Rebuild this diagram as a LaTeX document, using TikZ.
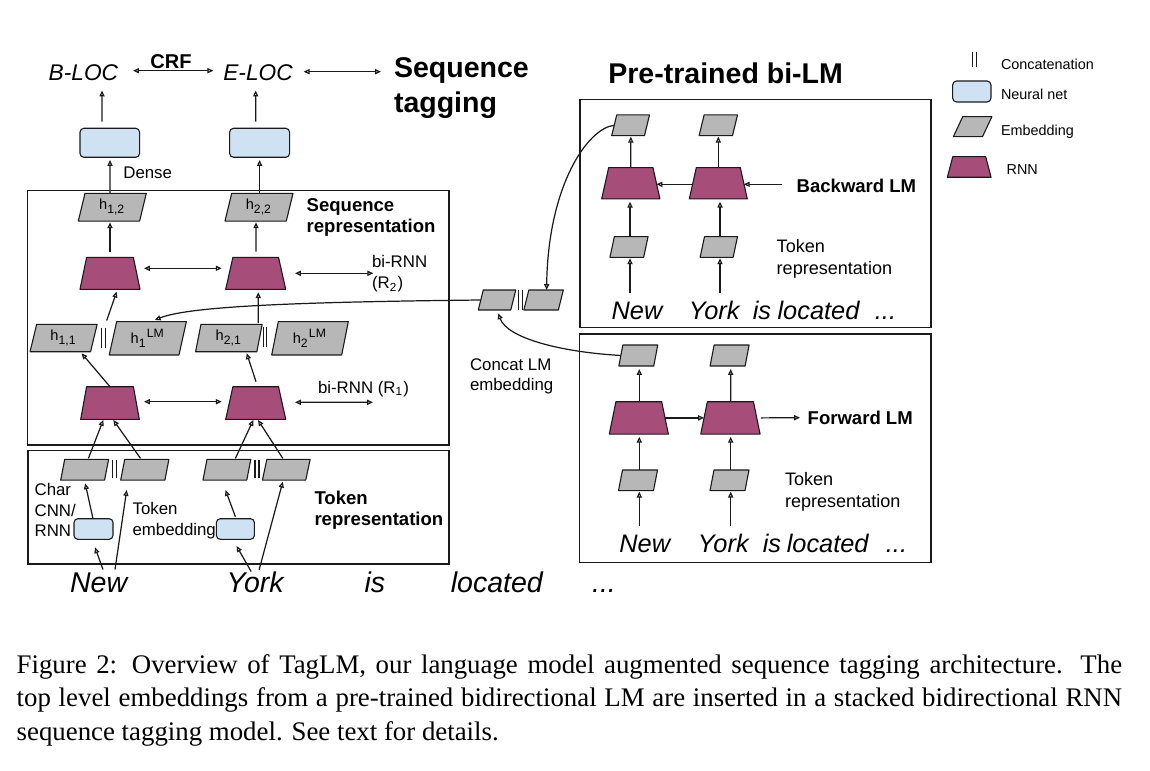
\documentclass[tikz,border=0pt]{standalone}
\usepackage{fontspec}
\setmainfont{Liberation Sans}
\newfontfamily\capfont{Liberation Serif}
\usetikzlibrary{arrows.meta,calc,backgrounds}

\definecolor{rnnc}{HTML}{A64D79}
\definecolor{nnc}{HTML}{CFE2F3}
\definecolor{embc}{HTML}{B7B7B7}
\definecolor{edgec}{HTML}{1A1A1A}

\tikzset{
  otri/.tip={Triangle[open,length=2.4pt,width=2.1pt]},
  arr/.style={-otri, line width=0.5pt, draw=edgec},
  darr/.style={otri-otri, line width=0.5pt, draw=edgec},
  every node/.style={inner sep=0pt, outer sep=0pt},
  lbl/.style={text height=0.72em, text depth=0pt},
  frame/.style={draw=edgec, line width=0.55pt},
  embshape/.style={fill=embc, draw=edgec, line width=0.45pt, line join=round},
  rnnshape/.style={fill=rnnc, draw=edgec, line width=0.45pt, line join=round},
  nn/.style={draw=edgec, fill=nnc, rounded corners=1.6pt, line width=0.45pt},
  catline/.style={draw=edgec, line width=0.45pt},
  tbig/.style={font=\fontsize{11.7}{14}\selectfont\bfseries},
  tbold/.style={font=\fontsize{7.6}{8.7}\selectfont\bfseries},
  tsmall/.style={font=\fontsize{6.9}{8.5}\selectfont},
  tmed/.style={font=\fontsize{7.4}{8.9}\selectfont},
  tleg/.style={font=\fontsize{5.9}{7}\selectfont},
  tloc/.style={font=\fontsize{9.3}{11}\selectfont\itshape},
  tcrf/.style={font=\fontsize{8.2}{10}\selectfont\bfseries},
  wl/.style={font=\fontsize{11.7}{14}\selectfont\itshape, lbl},
  wr/.style={font=\fontsize{10.4}{12}\selectfont\itshape, lbl},
  embtxt/.style={font=\fontsize{6}{7}\selectfont},
  captxt/.style={font=\capfont\fontsize{11}{13.6}\selectfont, anchor=base west},
}

% embedding: name, x, y, width, height, half slant, text
\newcommand\Emb[7]{%
  \node[embtxt, minimum width=#4*0.41pt, minimum height=#5*0.41pt] (#1) at (#2,#3) {#7};
  \begin{scope}[on background layer]
    \draw[embshape] ($(#1.south west)+(-#6,0)$) -- ($(#1.south east)+(-#6,0)$)
      -- ($(#1.north east)+(#6,0)$) -- ($(#1.north west)+(#6,0)$) -- cycle;
  \end{scope}}
% RNN: name, x, y, bottom width, height, inset
\newcommand\Rnn[6]{%
  \node[minimum width=#4*0.41pt, minimum height=#5*0.41pt] (#1) at (#2,#3) {};
  \begin{scope}[on background layer]
    \draw[rnnshape] (#1.south west) -- (#1.south east)
      -- ($(#1.north east)+(-#6,0)$) -- ($(#1.north west)+(#6,0)$) -- cycle;
  \end{scope}}
% concatenation bars: name, x, y, height, gap
\newcommand\Cat[5]{%
  \node[minimum width=#5*0.41pt, minimum height=#4*0.41pt] (#1) at (#2,#3) {};
  \draw[catline] (#1.north west) -- (#1.south west) (#1.north east) -- (#1.south east);}

\begin{document}
\begin{tikzpicture}[x=0.41pt,y=-0.41pt]
\useasboundingbox (0,0) rectangle (1150,771);

% ---------------- frames
\draw[frame] (27.5,190.7) rectangle (449,445);
\draw[frame] (28,450.7) rectangle (449,564);
\draw[frame] (580,99.3) rectangle (931,327.3);
\draw[frame] (579.3,334) rectangle (931,562.3);

% ---------------- top: tags
\node[tloc, lbl] (bloc) at (83.4,71.7) {B-LOC};
\node[tloc, lbl] (eloc) at (258,71.7) {E-LOC};
\node[tcrf, lbl] (crf) at (171,60) {CRF};
\draw[darr] ($(bloc.east)+(15,-1)$) -- ($(eloc.west)+(-10,-1)$);
\node[tbig, anchor=base west] (seq1) at (394,78) {Sequence};
\node[tbig, anchor=base west] (seq2) at (394,112.5) {tagging};
\draw[darr] ($(eloc.east)+(11,0)$) -- ($(seq1.west |- eloc.east)+(-13,0)$);

\node[nn, minimum width=59.6*0.41pt, minimum height=29*0.41pt] (dense1) at (109.8,142.8) {};
\node[nn, minimum width=60*0.41pt, minimum height=29*0.41pt] (dense2) at (259.6,142.8) {};
\node[tsmall, lbl] (denselbl) at (147.7,169.3) {Dense};
\draw[arr] ($(dense1.north)+(-7.8,-6.6)$) -- ($(bloc.south)+(18.6,10.1)$);
\draw[arr] ($(dense2.north)+(-3.9,-6.6)$) -- ($(eloc.south)+(-2.3,10.1)$);

% ---------------- sequence representation
\Emb{h12}{112.3}{207.2}{61.3}{27.7}{3.35}{h\textsubscript{1,2}}
\Emb{h22}{259}{207.2}{61.3}{27.7}{3.35}{h\textsubscript{2,2}}
\draw[arr] ($(h12.north)+(-2.3,0)$) -- ($(dense1.south)+(0.2,2.7)$);
\draw[arr] ($(h22.north)+(0.6,0)$) -- ($(dense2.south)+(0,2.7)$);
\node[tbold, align=left, anchor=west] (seqrep) at (306.7,217.5) {Sequence\\representation};

\Rnn{rnn21}{110}{273.3}{60}{32}{6.65}
\Rnn{rnn22}{255.7}{273.3}{60}{32}{7.2}
\draw[arr] ($(rnn21.north)+(0,-5.6)$) -- ($(h12.south)+(-2.3,1.3)$);
\draw[arr] ($(rnn22.north)+(0.3,-5.6)$) -- ($(h22.south)+(-3,1.3)$);
\draw[darr] ($(rnn21.east)+(4,-5)$) -- ($(rnn22.west)+(-4,-5)$);
\coordinate (r2end) at (373.3,273.3);
\draw[darr] ($(rnn22.east)+(9.3,0)$) -- (r2end);
\node[tsmall, align=left, anchor=west] (birnn2) at (372,274) {bi-RNN\\(R\textsubscript{2})};

\Emb{h11}{63.6}{338}{60.5}{27.4}{3.3}{h\textsubscript{1,1}}
\Emb{h1lm}{147.8}{338.3}{69.7}{33.3}{3.7}{h\textsubscript{1}\textsuperscript{LM}}
\Emb{h21}{228.9}{338}{61.2}{27.4}{2.7}{h\textsubscript{2,1}}
\Emb{h2lm}{310}{338.3}{70}{33.3}{3.3}{h\textsubscript{2}\textsuperscript{LM}}
\Cat{cat1}{103.3}{337.5}{20}{3.8}
\Cat{cat2}{265}{337}{20}{3.2}
\draw[arr] ($(cat1.north)+(3.4,-7)$) -- ($(rnn21.south)+(6.7,2.4)$);
\draw[arr] ($(cat2.north)+(-6.7,-4)$) -- ($(rnn22.south)+(2.6,3)$);

\Rnn{rnn11}{110}{403}{58.6}{32.6}{5.9}
\Rnn{rnn12}{255.7}{403}{60}{32.6}{7.2}
\draw[arr] (rnn11.north) -- ($(h11.south)+(18,1.6)$);
\draw[arr] ($(rnn12.north)+(0.3,-5)$) -- ($(h21.south)+(17.8,1.6)$);
\draw[darr] ($(rnn11.east)+(4.7,-1.3)$) -- ($(rnn12.west)+(-4,-1.3)$);
\coordinate (r1end) at (373,402.3);
\draw[darr] ($(rnn12.east)+(9.3,-0.7)$) -- (r1end);
\node[tsmall, lbl, anchor=west] (birnn1) at (318,384.3) {bi-RNN (R\textsubscript{1})};

% ---------------- token representation
\Emb{tok1}{84.65}{469.7}{43.9}{20.7}{2}{}
\Emb{tok2}{144.8}{469.7}{44.2}{20.7}{2}{}
\Emb{tok3}{226.9}{469.7}{43.8}{20.7}{2}{}
\Emb{tok4}{286.3}{469.7}{43.3}{20.7}{2.2}{}
\Cat{tcat1}{114.9}{469}{18}{4}
\Cat{tcat2}{257}{469}{18}{4}
\draw[arr] ($(tok1.north)+(3.75,-1)$) -- ($(rnn11.south)+(-6.7,0.7)$);
\draw[arr] ($(tok2.north)+(-4.3,-1)$) -- ($(rnn11.south)+(3.3,0.7)$);
\draw[arr] ($(tok3.north)+(8.5,-1)$) -- ($(rnn12.south)+(-2.4,0.7)$);
\draw[arr] ($(tok4.north)+(-3.5,-1)$) -- ($(rnn12.south)+(2.3,0.7)$);

\node[tsmall, align=left, anchor=west] (charlbl) at (34.6,510) {Char\\CNN/\\RNN};
\node[nn, minimum width=39*0.41pt, minimum height=20.6*0.41pt] (cnn1) at (93.5,529) {};
\node[nn, minimum width=38*0.41pt, minimum height=20.6*0.41pt] (cnn2) at (235.4,529) {};
\node[tsmall, align=left, anchor=west] (tokemb) at (132.6,520.5) {Token\\embedding};
\node[tbold, align=left, anchor=west] (tokrep) at (314.5,510) {Token\\representation};

\node[wl] (w1) at (98.6,583.3) {New};
\node[wl] (w2) at (255.1,583.3) {York};
\node[wl] (w3) at (374.8,583.3) {is};
\node[wl] (w4) at (496.8,583.3) {located};
\node[wl] (w5) at (604,583.3) {...};

\draw[arr] ($(cnn1.north)+(-0.5,0)$) -- ($(tok1.south)+(0.55,3.3)$);
\draw[arr] ($(w1.north)+(4.4,-5)$) -- ($(cnn1.south)+(1.5,8)$);
\draw[arr] ($(w1.north)+(16.4,-5)$) -- ($(tok2.south)+(-18.1,10)$);
\draw[arr] ($(cnn2.north)+(0,-2)$) -- ($(tok3.south)+(-1.4,10)$);
\draw[arr] ($(w2.north)+(-4,-3)$) -- ($(cnn2.south)+(1.2,6.7)$);
\draw[arr] ($(w2.north)+(4,-4.7)$) -- ($(tok4.south)+(-3.5,1.7)$);

% ---------------- concat LM embedding
\Emb{cc1}{497}{300}{32.5}{20}{2.5}{}
\Emb{cc2}{543.6}{300}{34.5}{20}{2.5}{}
\Cat{cccat}{520.3}{300}{20}{4}
\draw[arr] (cc1.west) .. controls (300,302) and (190,306) .. ($(h1lm.north)+(7,-1.7)$);
\node[tsmall, align=left, anchor=west] (cclbl) at (470,376.5) {Concat LM\\embedding};

% ---------------- pre-trained bi-LM
\node[tbig, anchor=base west] (pretr) at (608.3,83.3) {Pre-trained bi-LM};

% backward LM
\Emb{bwtop1}{630.6}{125.3}{32.8}{20.7}{2.5}{}
\Emb{bwtop2}{718.3}{125.3}{33.4}{20.7}{2.5}{}
\Rnn{bwrnn1}{630.8}{183.3}{58.3}{31.3}{7}
\Rnn{bwrnn2}{718.3}{183.3}{58}{31.3}{7}
\Emb{bwbot1}{629}{247}{33.7}{20.6}{2.2}{}
\Emb{bwbot2}{718.8}{247}{33}{20.6}{2.2}{}
\draw[arr] (bwrnn1.north) -- ($(bwtop1.south)+(0.2,1)$);
\draw[arr] (bwrnn2.north) -- ($(bwtop2.south)+(0,1)$);
\draw[arr] ($(bwrnn2.west)+(3.5,1)$) -- ($(bwrnn1.east)+(-3.5,1)$);
\coordinate (bwin) at (781.7,184.3);
\draw[arr] (bwin) -- ($(bwrnn2.east)+(-3.5,1)$);
\node[tbold, lbl, anchor=west] (bwlbl) at (796.7,183.3) {Backward LM};
\draw[arr] ($(bwbot1.north)+(1,0)$) -- ($(bwrnn1.south)+(-0.8,2.7)$);
\draw[arr] ($(bwbot2.north)+(1.2,0)$) -- ($(bwrnn2.south)+(1.7,2.7)$);
\node[tmed, align=left, anchor=west] (bwtok) at (776.7,259) {Token\\representation};
\node[wr] (bnew) at (637,310.8) {New};
\node[wr] (byork) at (714.2,310.8) {York};
\node[wr] (bis) at (762,310.8) {is};
\node[wr] (blocd) at (818.5,310.8) {located};
\node[wr] (bdots) at (885.5,310.8) {...};
\draw[arr] ($(bnew.north)+(-7,-9)$) -- ($(bwbot1.south)+(1,1)$);
\draw[arr] ($(byork.north)+(5.8,-9)$) -- ($(bwbot2.south)+(1.2,1)$);

\draw[arr] (bwtop1.west) .. controls (588,128) and (548,185) .. ($(cc2.north)+(3,0)$);

% forward LM
\Emb{fwtop1}{638.3}{355.5}{34.9}{21}{2}{}
\Emb{fwtop2}{729.6}{355.5}{35}{21}{2}{}
\Rnn{fwrnn1}{638.8}{417.9}{59}{32.3}{6.6}
\Rnn{fwrnn2}{730.4}{417.9}{59.3}{32.3}{6.6}
\Emb{fwbot1}{638}{480.3}{35}{20.7}{2}{}
\Emb{fwbot2}{729.5}{480.3}{35}{20.7}{2}{}
\draw[arr] ($(fwrnn1.north)+(0.5,0)$) -- ($(fwtop1.south)+(1,3)$);
\draw[arr] ($(fwrnn2.north)+(0.3,0)$) -- ($(fwtop2.south)+(1.1,3)$);
\draw[arr] ($(fwrnn1.east)+(-3.3,0)$) -- ($(fwrnn2.west)+(3.3,0)$);
\coordinate (fwout) at (800,417.7);
\draw[arr] ($(fwrnn2.east)+(0.7,0)$) -- (fwout);
\node[tbold, lbl, anchor=west] (fwlbl) at (807.7,416) {Forward LM};
\draw[arr] ($(fwbot1.north)+(1.3,0)$) -- ($(fwrnn1.south)+(0.5,2.7)$);
\draw[arr] ($(fwbot2.north)+(1.2,0)$) -- ($(fwrnn2.south)+(0.3,2.7)$);
\node[tmed, align=left, anchor=west] (fwtok) at (785,492) {Token\\representation};
\node[wr] (fnew) at (644.7,544.2) {New};
\node[wr] (fyork) at (723.3,544.2) {York};
\node[wr] (fis) at (772,544.2) {is};
\node[wr] (flocd) at (827.7,544.2) {located};
\node[wr] (fdots) at (896.5,544.2) {...};
\draw[arr] ($(fnew.north)+(-5.4,-9.9)$) -- ($(fwbot1.south)+(1.3,1)$);
\draw[arr] ($(fyork.north)+(7.4,-9.9)$) -- ($(fwbot2.south)+(1.2,1)$);

\draw[arr] (fwtop1.west) .. controls (560,352) and (507,338) .. ($(cc1.south)+(1.3,3.3)$);

% ---------------- legend
\Cat{lcat}{974.2}{59.5}{15.6}{3.7}
\node[tleg, lbl, anchor=west] (lcatt) at (1001,61) {Concatenation};
\node[nn, minimum width=38.3*0.41pt, minimum height=21*0.41pt] (lnn) at (971.8,91.5) {};
\node[tleg, lbl, anchor=west] (lnnt) at (1001,91) {Neural net};
\Emb{lemb}{972.6}{126.7}{29.15}{20}{4.7}{}
\node[tleg, lbl, anchor=west] (lembt) at (1001,126.7) {Embedding};
\Rnn{lrnn}{969.2}{167}{43.7}{20.6}{5.4}
\node[tleg, lbl, anchor=west] (lrnnt) at (1006.7,165.7) {RNN};

% ---------------- caption
\node[captxt] (cap1) at (16.7,673.3) {\makebox[453.2pt][s]{Figure 2: Overview of TagLM, our language model augmented sequence tagging architecture. The}};
\node[captxt] (cap2) at (16.7,706.7) {\makebox[453.2pt][s]{top level embeddings from a pre-trained bidirectional LM are inserted in a stacked bidirectional RNN}};
\node[captxt] (cap3) at (16.7,740) {sequence tagging model. See text for details.};
\end{tikzpicture}
\end{document}
